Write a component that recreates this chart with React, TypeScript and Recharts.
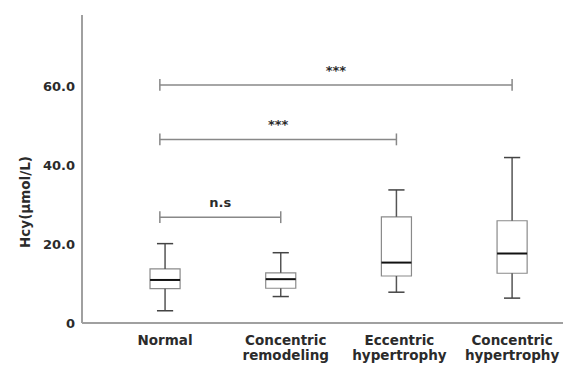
import { ComposedChart, XAxis, YAxis, Scatter, ReferenceArea, ReferenceLine, ReferenceDot } from 'recharts';

const groups = ['Normal', 'Concentric remodeling', 'Eccentric hypertrophy', 'Concentric hypertrophy'];
const xTickLines = [['Normal'], ['Concentric', 'remodeling'], ['Eccentric', 'hypertrophy'], ['Concentric', 'hypertrophy']];
const whiskerLow = [3.1, 6.7, 7.8, 6.3];
const q1 = [8.7, 8.8, 11.9, 12.6];
const median = [10.9, 11.1, 15.3, 17.6];
const q3 = [13.7, 12.7, 26.9, 25.9];
const whiskerHigh = [20.1, 17.8, 33.7, 41.9];

// significance brackets
const bracketFrom = [0, 0, 0];
const bracketTo = [1, 2, 3];
const bracketY = [26.8, 46.5, 60.3];
const bracketLabel = ['n.s', '***', '***'];

const yTicks = [0, 20, 40, 60];

const FONT = '"DejaVu Sans", sans-serif';
const TXT = '#2b2b2b';

const medianData = groups.map((g, i) => ({ x: i, y: median[i], name: g }));

const XTick = (props: any) => {
  const { x, y, payload } = props;
  const lines = xTickLines[payload.value] || [];
  const shift = [0, 5, 3, 0][payload.value] || 0;
  return (
    <g transform={`translate(${x + shift},${y})`}>
      {lines.map((l, k) => (
        <text key={k} x={0} y={14 + k * 15} textAnchor="middle" fontFamily={FONT} fontWeight="bold" fontSize={13.5} fill={TXT}>
          {l}
        </text>
      ))}
    </g>
  );
};

const MedianShape = (props: any) => {
  const { cx, cy } = props;
  return <line x1={cx - 15} x2={cx + 15} y1={cy} y2={cy} stroke="#111" strokeWidth={2} />;
};

const YTitle = (props: any) => {
  const vb = props.viewBox || { x: 0, y: 15, width: 82, height: 308 };
  const cx = vb.x + 25;
  const cy = vb.y + vb.height / 2 + 33;
  return (
    <text x={cx} y={cy} transform={`rotate(-90 ${cx} ${cy})`} textAnchor="middle" dominantBaseline="central"
      fontFamily={FONT} fontWeight="bold" fontSize={13.5} fill={TXT}>
      Hcy(μmol/L)
    </text>
  );
};

export default function App() {
  const hw = 0.13; // box half width
  const cw = 0.07; // cap half width
  const bt = 1.5; // bracket tick half height
  return (
    <div style={{ position: 'absolute', left: 0, top: 0, background: '#fff' }}>
      <ComposedChart width={563} height={369} margin={{ top: 15, right: 0, bottom: 0, left: 0 }}>
        <XAxis
          type="number"
          dataKey="x"
          domain={[-0.718, 3.44]}
          ticks={[0, 1, 2, 3]}
          allowDataOverflow
          height={46}
          tickLine={false}
          axisLine={{ stroke: '#a0a0a0', strokeWidth: 2 }}
          tick={<XTick />}
        />
        <YAxis
          type="number"
          dataKey="y"
          domain={[0, 78]}
          ticks={yTicks}
          allowDataOverflow
          width={82}
          tickLine={false}
          tickSize={5}
          tickMargin={2}
          axisLine={{ stroke: '#a0a0a0', strokeWidth: 2 }}
          tickFormatter={(v: number) => (v === 0 ? '0' : v.toFixed(1))}
          tick={{ fontFamily: FONT, fontWeight: 'bold', fontSize: 13, fill: TXT }}
          label={{ content: <YTitle /> }}
        />
        {groups.map((g, i) => (
          <ReferenceArea key={`box${i}`} x1={i - hw} x2={i + hw} y1={q1[i]} y2={q3[i]} fill="none" stroke="#8a8a8a" strokeWidth={1.2} fillOpacity={0} strokeOpacity={1} />
        ))}
        {groups.map((g, i) => (
          <ReferenceLine key={`wu${i}`} segment={[{ x: i, y: q3[i] }, { x: i, y: whiskerHigh[i] }]} stroke="#555" strokeWidth={1.5} />
        ))}
        {groups.map((g, i) => (
          <ReferenceLine key={`wl${i}`} segment={[{ x: i, y: q1[i] }, { x: i, y: whiskerLow[i] }]} stroke="#555" strokeWidth={1.5} />
        ))}
        {groups.map((g, i) => (
          <ReferenceLine key={`cu${i}`} segment={[{ x: i - cw, y: whiskerHigh[i] }, { x: i + cw, y: whiskerHigh[i] }]} stroke="#444" strokeWidth={1.5} />
        ))}
        {groups.map((g, i) => (
          <ReferenceLine key={`cl${i}`} segment={[{ x: i - cw, y: whiskerLow[i] }, { x: i + cw, y: whiskerLow[i] }]} stroke="#444" strokeWidth={1.5} />
        ))}
        {bracketY.map((y, k) => {
          const a = bracketFrom[k] - 0.045;
          const b = bracketTo[k];
          return [
            <ReferenceLine key={`bh${k}`} segment={[{ x: a, y }, { x: b, y }]} stroke="#888" strokeWidth={1.5} />,
            <ReferenceLine key={`ba${k}`} segment={[{ x: a, y: y - bt }, { x: a, y: y + bt }]} stroke="#888" strokeWidth={1.5} />,
            <ReferenceLine key={`bb${k}`} segment={[{ x: b, y: y - bt }, { x: b, y: y + bt }]} stroke="#888" strokeWidth={1.5} />,
            <ReferenceDot key={`bl${k}`} x={(a + b) / 2} y={y} r={0} fill="none" stroke="none"
              label={{ value: bracketLabel[k], position: 'top', offset: 10, fontFamily: FONT, fontWeight: 'bold', fontSize: 13, fill: TXT }} />,
          ];
        })}
        <Scatter data={medianData} dataKey="y" shape={<MedianShape />} isAnimationActive={false} />
      </ComposedChart>
    </div>
  );
}
